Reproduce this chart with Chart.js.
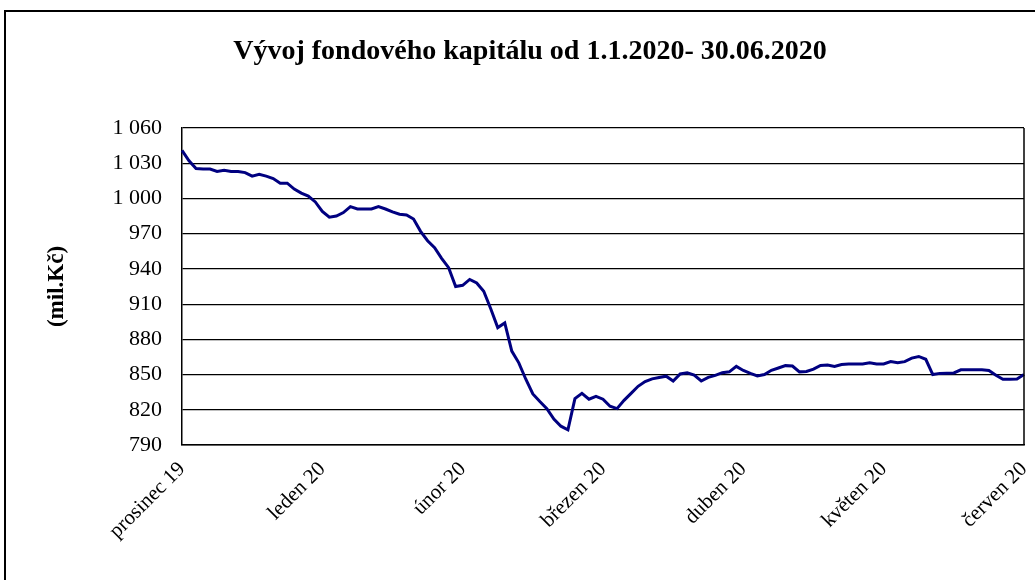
<!DOCTYPE html>
<html>
<head>
<meta charset="utf-8">
<script src="https://cdn.jsdelivr.net/npm/chart.js@4.4.1/dist/chart.umd.min.js"></script>
<style>
    html, body { margin: 0; padding: 0; background: #fff; overflow: hidden; }
    #frame {
        position: absolute; left: 4px; top: 10px;
        width: 1100px; height: 700px;
        border: 2px solid #000;
    }
    #wrap { position: absolute; left: 0; top: 0; width: 1035px; height: 580px; }
</style>
</head>
<body>
<div id="frame"></div>
<div id="wrap"><canvas id="capitalChart" width="1035" height="580"></canvas></div>
<script>
// month labels shown under the axis, one every 20 points
const monthLabels = ['prosinec 19', 'leden 20', 'únor 20', 'březen 20', 'duben 20', 'květen 20', 'červen 20'];
const labelStep = 20;

// fund capital in mil. Kč
const capital = [
    1041, 1032, 1025.5, 1025, 1025, 1023, 1024, 1023, 1023, 1022,
    1019, 1020.5, 1019, 1017, 1013, 1013, 1008, 1004.5, 1002, 997,
    989, 984, 985, 988, 993, 991, 991, 991, 993, 991,
    988.5, 986.5, 986, 982.5, 972, 964, 958, 949, 941, 925,
    926, 931, 928, 921, 906, 890, 894, 870, 860, 846,
    833.5, 827, 821, 812, 806, 803, 829.5, 834, 829, 831.5,
    829, 823, 821, 828, 834, 840, 844, 846.3, 847.5, 848.6,
    844.5, 850.5, 851.5, 849.5, 844.5, 847.6, 849.3, 851.6, 852.3, 857,
    853.5, 851, 848.8, 850, 853.6, 855.6, 857.6, 857.3, 852.3, 852.6,
    854.6, 857.8, 858.2, 856.9, 858.5, 859, 859, 859, 860, 859,
    859, 861, 860, 861, 864, 865.4, 863, 850, 851, 851.2,
    851.4, 854, 854, 854, 854, 853.5, 849.4, 846, 846, 846.2,
    850
];

const yTicks = { min: 790, max: 1060, step: 30 };

const serif = "'Liberation Serif', 'Times New Roman', serif";

function formatThousands(v) {
    if (v < 1000) return String(v);
    return Math.floor(v / 1000) + ' ' + String(v % 1000).padStart(3, '0');
}

// right edge of the plot box (the top one is the 1 060 gridline)
const plotFrame = {
    id: 'plotFrame',
    afterDatasetsDraw(chart) {
        const { ctx, chartArea } = chart;
        ctx.save();
        ctx.strokeStyle = '#000';
        ctx.lineWidth = 1.5;
        ctx.beginPath();
        ctx.moveTo(chartArea.right, chartArea.top);
        ctx.lineTo(chartArea.right, chartArea.bottom);
        ctx.stroke();
        ctx.restore();
    }
};

const ctx = document.getElementById('capitalChart').getContext('2d');
new Chart(ctx, {
    type: 'line',
    data: {
        labels: capital.map((_, i) => i),
        datasets: [{
            label: 'Fondový kapitál',
            data: capital,
            borderColor: '#000080',
            borderWidth: 3,
            pointRadius: 0,
            tension: 0,
            fill: false
        }]
    },
    options: {
        responsive: false,
        animation: false,
        layout: {
            padding: { left: 36, right: 11, top: 0, bottom: 0 }
        },
        plugins: {
            legend: { display: false },
            tooltip: { enabled: false },
            title: {
                display: true,
                text: 'Vývoj fondového kapitálu od 1.1.2020- 30.06.2020',
                color: '#000',
                font: { family: serif, size: 28, weight: 'bold' },
                padding: { top: 35, bottom: 59.4 }
            }
        },
        scales: {
            x: {
                grid: { display: false, drawTicks: false },
                border: { display: true, color: '#000', width: 1.5 },
                ticks: {
                    autoSkip: false,
                    maxRotation: 45,
                    minRotation: 45,
                    padding: 12,
                    color: '#000',
                    font: { family: serif, size: 21 },
                    callback: (v, i) => (i % labelStep === 0 ? monthLabels[i / labelStep] : null)
                },
                afterFit: (scale) => {
                    scale.height = 135;
                    scale.paddingLeft = 0;
                    scale.paddingRight = 0;
                }
            },
            y: {
                min: yTicks.min,
                max: yTicks.max,
                grid: { color: '#000', lineWidth: 1.2, drawTicks: false },
                border: { display: true, color: '#000', width: 1.5 },
                ticks: {
                    stepSize: yTicks.step,
                    padding: 20,
                    color: '#000',
                    font: { family: serif, size: 22 },
                    callback: (v) => formatThousands(v)
                },
                title: {
                    display: true,
                    text: '(mil.Kč)',
                    color: '#000',
                    font: { family: serif, size: 23, weight: 'bold' },
                    padding: { top: 7, bottom: 0 }
                },
                afterFit: (scale) => { scale.width = 146; }
            }
        }
    },
    plugins: [plotFrame]
});
</script>
</body>
</html>
